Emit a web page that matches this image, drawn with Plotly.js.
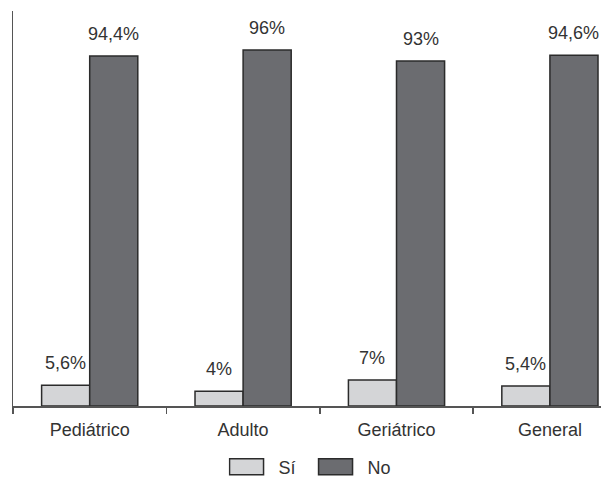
<!DOCTYPE html>
<html>
<head>
<meta charset="utf-8">
<script src="https://cdn.plot.ly/plotly-3.0.1.min.js"></script>
<style>html,body{margin:0;padding:0;background:#fff;}#chart{width:616px;height:477px;}</style>
</head>
<body>
<div id="chart"></div>
<script>
const categories = ["Pediátrico", "Adulto", "Geriátrico", "General"];
const siValues = [5.6, 4, 7, 5.4];
const noValues = [94.4, 96, 93, 94.6];
const siLabels = ["5,6%", "4%", "7%", "5,4%"];
const noLabels = ["94,4%", "96%", "93%", "94,6%"];
const seriesNames = ["Sí", "No"];

const FONT = "Liberation Sans, Arial, sans-serif";
const TXT = "#333333";
const OUTLINE = "#2b2b2b";
const bargap = 0.373;
const plotW = 616 - 13 - 15;
const xRange = [-0.5, 3.333];
const catPx = plotW / (xRange[1] - xRange[0]);
const barPx = catPx * (1 - bargap) / 2;

const traces = [
  {type: "bar", name: seriesNames[0], x: categories, y: siValues,
   marker: {color: "#d4d5d7", line: {color: OUTLINE, width: 1.5}}, hoverinfo: "skip"},
  {type: "bar", name: seriesNames[1], x: categories, y: noValues,
   marker: {color: "#6b6c70", line: {color: OUTLINE, width: 1.5}}, hoverinfo: "skip"}
];

const annotations = [];
categories.forEach((c, i) => {
  annotations.push({x: c, y: siValues[i], text: siLabels[i], showarrow: false,
    xanchor: "center", yanchor: "bottom", xshift: -barPx / 2, yshift: 10,
    font: {family: FONT, size: 18, color: TXT}});
  annotations.push({x: c, y: noValues[i], text: noLabels[i], showarrow: false,
    xanchor: "center", yanchor: "bottom", xshift: barPx / 2, yshift: 10,
    font: {family: FONT, size: 18, color: TXT}});
});

const layout = {
  width: 616, height: 477,
  margin: {l: 13, r: 15, t: 11, b: 71, pad: 0, autoexpand: false},
  paper_bgcolor: "#ffffff", plot_bgcolor: "#ffffff",
  barmode: "group", bargap: bargap, bargroupgap: 0,
  showlegend: true,
  legend: {orientation: "h", x: 0.5155, xanchor: "center", xref: "container",
    y: 0.021, yanchor: "middle", yref: "container", itemwidth: 40,
    entrywidth: 34, entrywidthmode: "pixels",
    font: {family: FONT, size: 18, color: TXT}, traceorder: "normal"},
  xaxis: {type: "category", range: xRange, tickson: "boundaries",
    ticks: "outside", ticklen: 6, tickwidth: 1.5, tickcolor: "#555555",
    ticklabelstandoff: 7,
    showline: true, linecolor: "#555555", linewidth: 1.5,
    showgrid: false, zeroline: false, fixedrange: true, automargin: false,
    tickfont: {family: FONT, size: 18, color: TXT}},
  yaxis: {range: [0, 106.5], showline: true, linecolor: "#555555", linewidth: 1.5,
    ticks: "", showticklabels: false, showgrid: false, zeroline: false, fixedrange: true},
  annotations: annotations
};

Plotly.newPlot("chart", traces, layout, {displayModeBar: false, staticPlot: true}).then(gd => {
  gd.querySelectorAll(".legend .legendpoints path").forEach(p => {
    p.setAttribute("d", "M10,8H-24V-8H10Z");
  });
});
</script>
</body>
</html>
